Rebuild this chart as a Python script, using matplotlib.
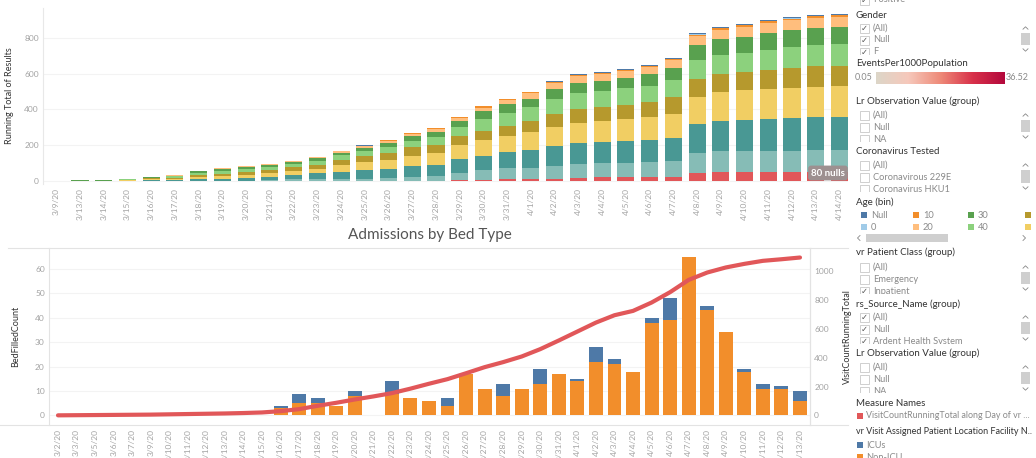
import numpy as np
import matplotlib.pyplot as plt
from matplotlib.patches import Rectangle
from matplotlib.colors import LinearSegmentedColormap

plt.rcParams['font.family'] = ['Lato', 'DejaVu Sans']

W, H = 1036, 458

# ---------------- top chart: running total of results, stacked by age bin
result_dates = ['3/9/20', '3/13/20', '3/14/20', '3/15/20', '3/16/20', '3/17/20', '3/18/20',
                '3/19/20', '3/20/20', '3/21/20', '3/22/20', '3/23/20', '3/24/20', '3/25/20',
                '3/26/20', '3/27/20', '3/28/20', '3/29/20', '3/30/20', '3/31/20', '4/1/20',
                '4/2/20', '4/3/20', '4/4/20', '4/5/20', '4/6/20', '4/7/20', '4/8/20', '4/9/20',
                '4/10/20', '4/11/20', '4/12/20', '4/13/20', '4/14/20']

age_90 = [0, 0, 0, 0, 0, 0, 0, 0, 0, 0, 0, 0, 0, 0, 0, 5, 5, 8, 8, 14, 14, 14, 18, 23, 27, 27, 27,
          45, 53, 53, 53, 53, 55, 55]
age_80 = [0, 0, 0, 0, 1, 1, 2, 2, 3, 8, 12, 12, 14, 16, 19, 21, 26, 41, 56, 59, 61, 74, 77, 78, 78,
          83, 85, 112, 116, 116, 116, 118, 120, 120]
age_70 = [0, 2, 2, 4, 6, 7, 10, 12, 18, 19, 24, 33, 39, 46, 50, 61, 62, 76, 78, 91, 100, 111, 117,
          117, 120, 122, 128, 163, 168, 172, 177, 180, 185, 186]
age_60 = [0, 1, 1, 3, 5, 7, 12, 15, 17, 18, 22, 26, 37, 44, 50, 55, 63, 78, 86, 90, 102, 105, 115,
          120, 120, 124, 133, 152, 161, 167, 167, 167, 167, 167]
age_50 = [0, 1, 1, 3, 5, 7, 12, 14, 15, 19, 21, 22, 29, 35, 37, 47, 47, 50, 50, 56, 61, 71, 76, 76,
          80, 85, 94, 98, 98, 101, 109, 111, 116, 116]
age_40 = [0, 1, 1, 2, 4, 6, 11, 16, 16, 16, 16, 21, 26, 30, 37, 37, 42, 48, 68, 72, 77, 81, 88, 88,
          92, 92, 96, 105, 105, 105, 111, 116, 116, 118]
age_30 = [0, 1, 1, 2, 3, 5, 9, 12, 12, 12, 13, 14, 15, 17, 21, 26, 32, 33, 43, 46, 46, 56, 56, 58,
          59, 63, 69, 84, 88, 89, 94, 96, 96, 96]
age_20 = [0, 0, 0, 0, 1, 1, 2, 4, 4, 5, 6, 7, 7, 7, 9, 11, 14, 18, 22, 24, 28, 33, 37, 37, 39, 41,
          42, 50, 55, 56, 56, 56, 56, 57]
age_10 = [0, 0, 0, 0, 0, 0, 0, 1, 1, 2, 2, 3, 3, 4, 5, 5, 5, 6, 6, 6, 6, 7, 7, 7, 7, 7, 7, 7, 8, 8,
          8, 8, 9, 9]
age_0 = [0, 0, 0, 0, 0, 0, 0, 0, 0, 0, 0, 0, 0, 0, 0, 0, 0, 0, 0, 0, 0, 0, 0, 0, 0, 0, 0, 2, 2, 2,
         2, 2, 2, 2]
age_null = [0, 0, 0, 0, 0, 0, 0, 0, 0, 0, 0, 0, 0, 2, 2, 2, 3, 3, 3, 3, 3, 4, 4, 4, 4, 4, 4, 5, 5,
            5, 5, 5, 5, 5]

# bottom to top of each stack
age_series = [age_90, age_80, age_70, age_60, age_50, age_40, age_30, age_20, age_10, age_0, age_null]
age_colors = ['#E15759', '#86BCB6', '#499894', '#F1CE63', '#B6992D', '#8CD17D', '#59A14F',
              '#FFBE7D', '#F28E2B', '#A0CBE8', '#4E79A7']

# ---------------- bottom chart: admissions by bed type
adm_dates = ['3/2/20', '3/3/20', '3/5/20', '3/6/20', '3/7/20', '3/9/20', '3/10/20', '3/11/20',
             '3/12/20', '3/13/20', '3/14/20', '3/15/20', '3/16/20', '3/17/20', '3/18/20', '3/19/20',
             '3/20/20', '3/21/20', '3/22/20', '3/23/20', '3/24/20', '3/25/20', '3/26/20', '3/27/20',
             '3/28/20', '3/29/20', '3/30/20', '3/31/20', '4/1/20', '4/2/20', '4/3/20', '4/4/20',
             '4/5/20', '4/6/20', '4/7/20', '4/8/20', '4/9/20', '4/10/20', '4/11/20', '4/12/20',
             '4/13/20']
non_icu = [0, 0, 0, 0, 0, 0, 0, 0, 0, 0, 0.2, 0.2, 3, 5, 5, 4, 8, 0, 9, 7, 6, 4, 17, 11, 8, 11, 13,
           17, 14, 22, 21, 18, 38, 39, 65, 43, 34, 18, 11, 11, 6]
icu = [0, 0, 0, 0, 0, 0, 0, 0, 0, 0.3, 0, 0, 1, 4, 2, 0, 2, 0.3, 5, 0, 0, 3, 0, 0, 5, 0, 6, 0, 1, 6,
       2, 0, 2, 9, 0, 2, 0, 1, 2, 1, 4]
visit_running_total = [1, 2, 3, 4, 5, 6, 8, 10, 12, 14, 17, 21, 30, 44, 67, 88, 111, 132, 155, 186,
                       220, 252, 293, 335, 370, 409, 460, 520, 582, 644, 695, 725, 783, 855, 940,
                       991, 1026, 1051, 1072, 1083, 1095]

TICK_C = '#a3a3a3'
LAB_C = '#333333'
ITEM_C = '#8a8a8a'


def frac(x0, y0, x1, y1):
    return [x0 / W, 1 - y1 / H, (x1 - x0) / W, (y1 - y0) / H]


fig = plt.figure(figsize=(W / 100, H / 100), dpi=100)

# top chart
ax1 = fig.add_axes(frac(43, 8, 848, 184))
x1 = np.arange(len(result_dates))
bottom = np.zeros(len(x1))
for vals, c in zip(age_series, age_colors):
    ax1.bar(x1, vals, 0.72, bottom=bottom, color=c, linewidth=0)
    bottom += np.array(vals)
ax1.set_xlim(-0.56, 33.36)
ax1.set_ylim(-14, 964)
ax1.set_yticks([0, 200, 400, 600, 800])
ax1.set_xticks(x1)
ax1.set_xticklabels(result_dates, rotation=90)
ax1.tick_params(length=0, labelsize=6, labelcolor=TICK_C, pad=3)
ax1.grid(axis='y', color='#f3f3f3', lw=0.8)
ax1.set_axisbelow(True)
for s in ['top', 'right', 'bottom']:
    ax1.spines[s].set_visible(False)
ax1.spines['left'].set_color('#e8e8e8')
ax1.set_ylabel('Running Total of Results', fontsize=6.5, color=LAB_C)
ax1.yaxis.set_label_coords((14 - 43) / 805, 0.5)

# bottom chart
ax2 = fig.add_axes(frac(49, 248, 810, 425))
x2 = np.arange(len(adm_dates))
ax2.bar(x2, non_icu, 0.75, color='#F28E2B', linewidth=0)
ax2.bar(x2, icu, 0.75, bottom=non_icu, color='#4E79A7', linewidth=0)
ax2.set_xlim(-0.485, 40.54)
ax2.set_ylim(-3.9, 68.6)
ax2.set_yticks([0, 10, 20, 30, 40, 50, 60])
ax2.set_xticks(x2)
ax2.set_xticklabels(adm_dates, rotation=90)
ax2.tick_params(length=0, labelsize=6, labelcolor=TICK_C, pad=3)
ax2.grid(axis='y', color='#f3f3f3', lw=0.8)
ax2.set_axisbelow(True)
for s in ['top', 'bottom']:
    ax2.spines[s].set_visible(False)
ax2.spines['left'].set_color('#e3e3e3')
ax2.spines['right'].set_color('#e3e3e3')
ax2.set_ylabel('BedFilledCount', fontsize=6.5, color=LAB_C)
ax2.yaxis.set_label_coords((20 - 49) / 761, 0.5)

ax3 = ax2.twinx()
ax3.plot(x2, visit_running_total, color='#E15759', lw=3, solid_capstyle='round')
ax3.set_ylim(-66, 1161)
ax3.set_yticks([0, 200, 400, 600, 800, 1000])
ax3.tick_params(length=0, labelsize=6, labelcolor=TICK_C, pad=3)
for s in ['top', 'bottom', 'left']:
    ax3.spines[s].set_visible(False)
ax3.spines['right'].set_color('#e3e3e3')
ax3.set_ylabel('VisitCountRunningTotal', fontsize=6.5, color=LAB_C)
ax3.yaxis.set_label_coords((843 - 49) / 761, 0.5)

# overlay in pixel coordinates for the dashboard furniture
ov = fig.add_axes([0, 0, 1, 1])
ov.set_xlim(0, W)
ov.set_ylim(H, 0)
ov.axis('off')

ov.text(430, 235, 'Admissions by Bed Type', ha='center', va='center', fontsize=11, color='#555555')
ov.plot([8, 848], [248, 248], color='#e3e3e3', lw=0.8)
ov.plot([0, 848], [425, 425], color='#e3e3e3', lw=0.8)

ov.text(828, 173, '80 nulls', ha='center', va='center', fontsize=7, color='white', fontweight='bold',
        bbox=dict(boxstyle='round,pad=0.3', fc='#9d9090', ec='none'))


# ---------------- filter / legend panel
def header(y, s, size=7):
    ov.text(856, y, s, fontsize=size, color=LAB_C, va='center', ha='left')


def item(y, s, checked):
    ov.add_patch(Rectangle((860, y - 4.5), 9, 9, fc='white', ec='#c8c8c8', lw=0.6))
    if checked:
        ov.text(864.5, y, '✓', family='DejaVu Sans', fontsize=6, color='#555555',
                ha='center', va='center')
    ov.text(873, y, s, fontsize=6.7, color=ITEM_C, va='center')


def scroll(y_up, y_down):
    ov.plot([1023, 1025.5, 1028], [y_up + 1.2, y_up - 1.2, y_up + 1.2], color='#888888', lw=0.6)
    ov.add_patch(Rectangle((1021, y_up + 5), 9, y_down - y_up - 10, fc='#cfcfcf', ec='none'))
    ov.plot([1023, 1025.5, 1028], [y_down - 1.2, y_down + 1.2, y_down - 1.2], color='#888888', lw=0.6)


def mask(y0, y1):
    ov.add_patch(Rectangle((852, y0), 165, y1 - y0, fc='white', ec='none', zorder=10))


item(0, 'Positive', True)

header(15, 'Gender')
for y, s in zip([28, 40, 52], ['(All)', 'Null', 'F']):
    item(y, s, True)
scroll(28, 50)
mask(54.5, 59)

header(64, 'EventsPer1000Population')
cmap = LinearSegmentedColormap.from_list('reds', ['#dcd6c8', '#f6c8bb', '#ee8a78', '#d8314a', '#b3083c'])
gax = fig.add_axes(frac(876, 72, 1005, 84))
gax.imshow(np.linspace(0, 1, 256)[None, :], aspect='auto', cmap=cmap)
gax.axis('off')
ov.text(855, 78, '0.05', fontsize=6.5, color=ITEM_C, va='center')
ov.text(1006, 78, '36.52', fontsize=6.5, color=ITEM_C, va='center')

header(101, 'Lr Observation Value (group)')
for y, s in zip([115, 127, 139], ['(All)', 'Null', 'NA']):
    item(y, s, False)
scroll(115, 137)
mask(141.5, 146)

header(152, 'Coronavirus Tested')
for y, s in zip([165, 177, 189], ['(All)', 'Coronavirous 229E', 'Coronavirus HKU1']):
    item(y, s, False)
scroll(165, 188)
mask(191.5, 196)

header(202, 'Age (bin)')
legend_rows = [[('Null', '#4E79A7'), ('10', '#F28E2B'), ('30', '#59A14F'), ('', '#B6992D')],
               [('0', '#A0CBE8'), ('20', '#FFBE7D'), ('40', '#8CD17D'), ('', '#F1CE63')]]
for y, row in zip([215, 227], legend_rows):
    for xs, (s, c) in zip([861, 913, 968, 1025], row):
        ov.add_patch(Rectangle((xs, y - 3), 6, 6, fc=c, ec='none'))
        ov.text(xs + 10, y, s, fontsize=6.7, color=ITEM_C, va='center')
ov.plot([860, 857.5, 860], [235.5, 238, 240.5], color='#888888', lw=0.6)
ov.add_patch(Rectangle((866, 234), 82, 8, fc='#cfcfcf', ec='none'))
ov.plot([1023, 1025.5, 1023], [235.5, 238, 240.5], color='#888888', lw=0.6)

header(252, 'vr Patient Class (group)')
for y, s, ck in zip([267, 279, 291], ['(All)', 'Emergency', 'Inpatient'], [False, False, True]):
    item(y, s, ck)
scroll(267, 289)
mask(293.5, 298)

header(304, 'rs_Source_Name (group)')
for y, s in zip([317, 329, 341], ['(All)', 'Null', 'Ardent Health System']):
    item(y, s, True)
scroll(317, 339)
mask(343.5, 347.5)

header(353, 'Lr Observation Value (group)')
for y, s in zip([367, 379, 391], ['(All)', 'Null', 'NA']):
    item(y, s, False)
scroll(367, 389)
mask(392.5, 398)

header(404, 'Measure Names')
ov.add_patch(Rectangle((857, 413), 6, 6, fc='#E15759', ec='none'))
ov.text(866, 416, 'VisitCountRunningTotal along Day of vr ...', fontsize=6.4, color=ITEM_C, va='center')

header(432, 'vr Visit Assigned Patient Location Facility N..', size=6.5)
ov.add_patch(Rectangle((857, 442), 6, 6, fc='#4E79A7', ec='none'))
ov.text(866, 445, 'ICUs', fontsize=6.7, color=ITEM_C, va='center')
ov.add_patch(Rectangle((857, 454), 6, 6, fc='#F28E2B', ec='none'))
ov.text(866, 457, 'Non-ICU', fontsize=6.7, color=ITEM_C, va='center')

fig.savefig('out.png', dpi=100)
